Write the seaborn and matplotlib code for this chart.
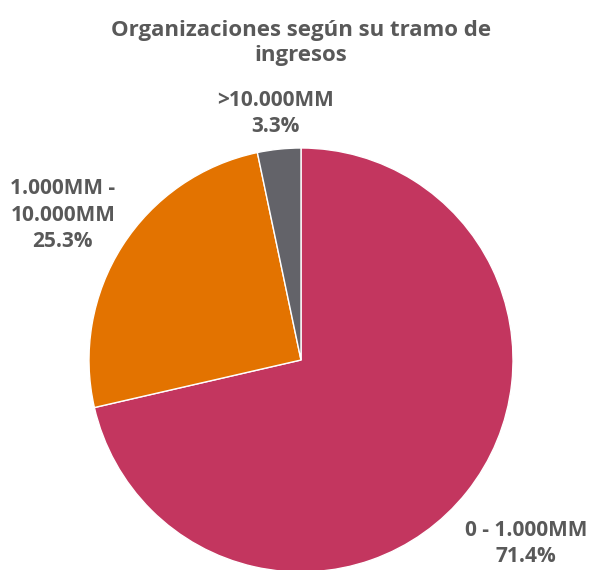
import numpy as np
import matplotlib
matplotlib.use("Agg")
import matplotlib.pyplot as plt
import seaborn as sns

# data
categorias = ["0 - 1.000MM", "1.000MM -\n10.000MM", ">10.000MM"]
porcentajes = [71.4, 25.3, 3.3]
colores = ["#C3365F", "#E37300", "#636369"]

titulo = "Organizaciones según su tramo de\ningresos"

sns.set_theme(style="white")
plt.rcParams["font.family"] = ["Open Sans", "DejaVu Sans"]
texto = "#595959"

fig = plt.figure(figsize=(5.96, 5.70), dpi=100)
# square axes so the pie sits like in the reference (bottom touches the edge)
ax = fig.add_axes([89 / 596, (570 - 360 - 212) / 570, 424 / 596, 424 / 570])

wedges, _ = ax.pie(
    porcentajes,
    colors=colores,
    startangle=90,
    counterclock=False,
    wedgeprops=dict(edgecolor="white", linewidth=1),
)
ax.set_xlim(-1, 1)
ax.set_ylim(-1, 1)
ax.set_aspect("equal")
ax.axis("off")

# labels outside the slices, like excel's best fit
distancias = [1.37, 1.315, 1.17]
giro = [-0.6, 1.25, 0.0]  # small angle nudges, degrees
for w, cat, pct, d, g in zip(wedges, categorias, porcentajes, distancias, giro):
    ang = np.deg2rad((w.theta1 + w.theta2) / 2 + g)
    ax.text(d * np.cos(ang), d * np.sin(ang), f"{cat}\n{pct:.1f}%",
            ha="center", va="center", fontsize=15, fontweight="bold",
            color=texto, linespacing=1.34, clip_on=False)

fig.text(301 / 596, 1 - 43 / 570, titulo, ha="center", va="center",
         fontsize=16, fontweight="bold", color=texto, linespacing=1.3)

fig.savefig("out.png", dpi=100)
